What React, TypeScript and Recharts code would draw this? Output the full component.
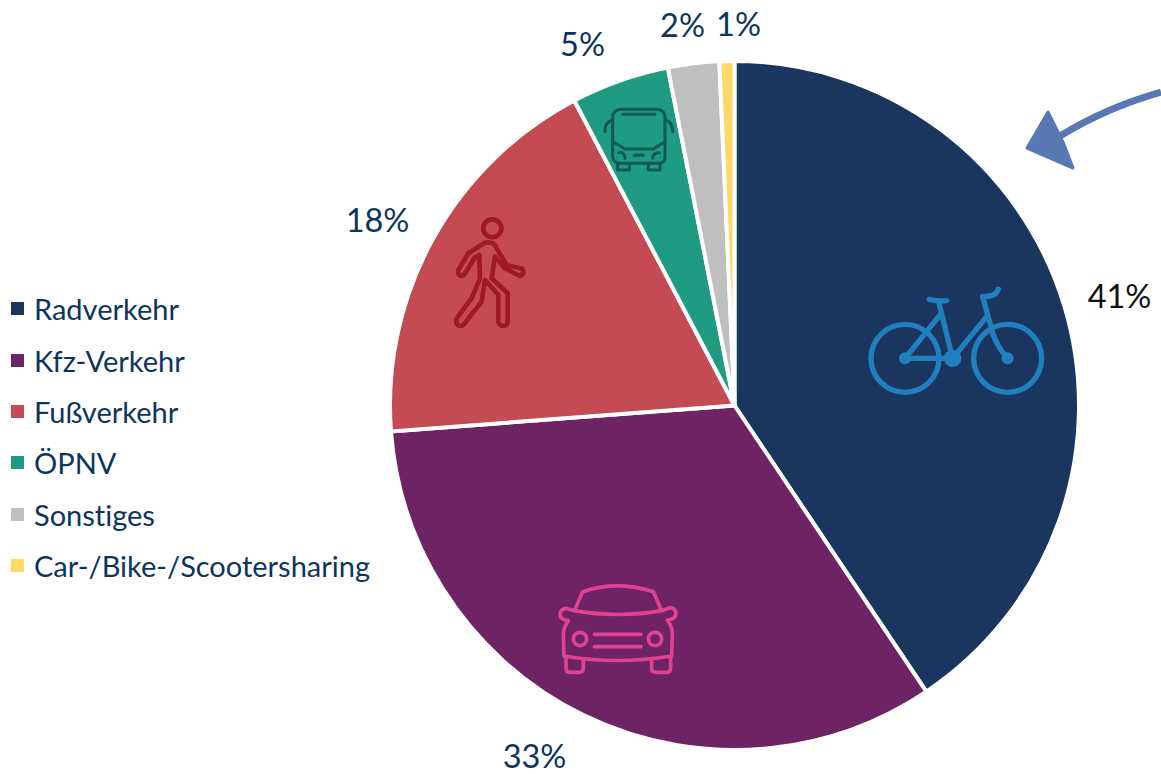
import { PieChart, Pie, Cell, Legend } from 'recharts';

const categories = ['Radverkehr', 'Kfz-Verkehr', 'Fußverkehr', 'ÖPNV', 'Sonstiges', 'Car-/Bike-/Scootersharing'];
const shares = [40.6, 33.2, 18.5, 4.6, 2.4, 0.7];
const shareLabels = ['41%', '33%', '18%', '5%', '2%', '1%'];
const colors = ['#1A365F', '#6E2364', '#C44A53', '#1F9B82', '#BFBFBF', '#FFD966'];
const labelColors = ['#111111', '#0B3560', '#0B3560', '#0B3560', '#0B3560', '#0B3560'];

// label centres, relative to the pie centre
const labelOffsets = [
  [385, -110],
  [-200, 350],
  [-357, -186],
  [-152, -362],
  [-52, -381],
  [4, -382],
];

const data = categories.map((name, i) => ({ name, value: shares[i] }));

const WIDTH = 1161;
const HEIGHT = 774;
const CX = 734.5;
const CY = 405.5;
const FONT = 'Lato, "Open Sans", sans-serif';

function renderLabel(props: any) {
  const [dx, dy] = labelOffsets[props.index];
  return (
    <text
      x={CX + dx}
      y={CY + dy}
      textAnchor="middle"
      dominantBaseline="central"
      fontFamily={FONT}
      fontSize={32.5}
      fill={labelColors[props.index]}
    >
      {shareLabels[props.index]}
    </text>
  );
}

function LegendList() {
  return (
    <div style={{ fontFamily: FONT, fontSize: 29, color: '#0B3560', fontVariantLigatures: 'none' }}>
      {categories.map((name, i) => (
        <div key={name} style={{ height: 51.4, display: 'flex', alignItems: 'center', whiteSpace: 'nowrap' }}>
          <span style={{ width: 13, height: 13, background: colors[i], marginLeft: 11, marginRight: 10 }} />
          {name}
        </div>
      ))}
    </div>
  );
}

function Icons() {
  return (
    <svg width={WIDTH} height={HEIGHT} style={{ position: 'absolute', left: 0, top: 0, pointerEvents: 'none' }}>
      {/* bicycle */}
      <g transform="translate(840 260) scale(0.3333)" fill="none" stroke="#1F7FBF" strokeWidth={16} strokeLinecap="round" strokeLinejoin="round">
        <circle cx={195} cy={295} r={102} />
        <circle cx={503} cy={295} r={102} />
        <path d="M195 295 L300 165 M195 295 L338 295 L440 170 M295 122 L338 295 M428 110 L460 225 Q475 265 503 295" />
        <path d="M268 118 Q295 125 320 122 M428 110 L450 108 Q468 106 475 88" />
        <circle cx={338} cy={295} r={26} fill="#1F7FBF" stroke="none" />
        <circle cx={195} cy={295} r={18} fill="#1F7FBF" stroke="none" />
        <circle cx={503} cy={295} r={18} fill="#1F7FBF" stroke="none" />
      </g>
      {/* car */}
      <g transform="translate(540 570) scale(0.3333)" fill="none" stroke="#E0428F" strokeWidth={11} strokeLinecap="round" strokeLinejoin="round">
        <path d="M103 122 L128 65 Q230 30 340 65 L365 122 Q235 145 103 122 Z" />
        <path d="M103 122 L78 115 Q60 118 60 135 Q62 150 85 152 Q70 175 70 190 L72 258 Q230 285 395 258 L397 190 Q397 170 382 150 Q406 148 408 132 Q408 115 390 113 L365 122" />
        <circle cx={120} cy={207} r={20} />
        <circle cx={345} cy={207} r={20} />
        <path d="M163 193 L303 193 M163 230 L303 230" />
        <path d="M78 262 L78 295 Q78 307 90 307 L118 307 Q130 307 130 295 L130 270" />
        <path d="M335 270 L335 295 Q335 307 347 307 L380 307 Q392 307 392 295 L392 262" />
      </g>
      {/* walking person */}
      <g transform="translate(440 200) scale(0.3333)" fill="none" stroke="#A01A22" strokeWidth={14} strokeLinecap="round" strokeLinejoin="round">
        <circle cx={157} cy={85} r={27} />
        <path d="M150 128 L135 128 L85 160 L55 210 Q52 225 62 228 Q72 228 78 215 L105 172 L118 165 L120 235 L95 295 L50 355 Q45 372 60 378 Q72 378 80 362 L125 305 L135 240 L175 285 L175 365 Q178 378 190 378 Q203 375 203 365 L203 280 L155 235 L165 170 L195 205 L240 228 Q252 224 250 212 Q248 205 240 205 L200 195 L170 145 Q165 130 150 128 Z" />
      </g>
      {/* bus */}
      <g transform="translate(550 0) scale(0.3333)" fill="none" stroke="#0F5A55" strokeWidth={9} strokeLinecap="round" strokeLinejoin="round">
        <path d="M188 425 L188 355 Q188 328 215 328 L318 328 Q345 328 345 355 L345 425 L310 447 L225 447 Z" />
        <path d="M188 425 L188 470 Q190 490 210 490 L325 490 Q345 490 345 470 L345 425" />
        <path d="M218 343 L315 343 M188 360 Q165 365 165 395 M345 360 Q368 365 368 395" />
        <path d="M205 458 Q225 455 225 475 M328 458 Q308 458 308 475 M252 466 L280 466" />
        <path d="M203 490 L203 510 L238 510 L238 490 M295 490 L295 510 L330 510 L330 490" />
      </g>
      {/* arrow */}
      <path d="M1161 92 Q1105 108 1060 136" fill="none" stroke="#5878B4" strokeWidth={7} />
      <path d="M1048 112 L1027 148 L1073 168 L1063 142 Z" fill="#5878B4" stroke="#5878B4" strokeWidth={3} strokeLinejoin="round" />
    </svg>
  );
}

export default function App() {
  return (
    <div style={{ position: 'absolute', left: 0, top: 0, width: WIDTH, height: HEIGHT, overflow: 'hidden' }}>
      <PieChart width={WIDTH} height={HEIGHT} margin={{ top: 0, right: 0, bottom: 0, left: 0 }}>
        <Pie
          data={data}
          cx={CX}
          cy={CY}
          outerRadius={344.5}
          startAngle={90}
          endAngle={-270}
          dataKey="value"
          nameKey="name"
          stroke="#FFFFFF"
          strokeWidth={4}
          labelLine={false}
          label={renderLabel}
          isAnimationActive={false}
        >
          {data.map((entry, index) => (
            <Cell key={`cell-${index}`} fill={colors[index]} />
          ))}
        </Pie>
        {/* centred/middle so the legend does not eat into the chart area */}
        <Legend
          layout="vertical"
          align="center"
          verticalAlign="middle"
          wrapperStyle={{ left: 0, top: 283, width: 400 }}
          content={() => <LegendList />}
        />
      </PieChart>
      <Icons />
    </div>
  );
}
